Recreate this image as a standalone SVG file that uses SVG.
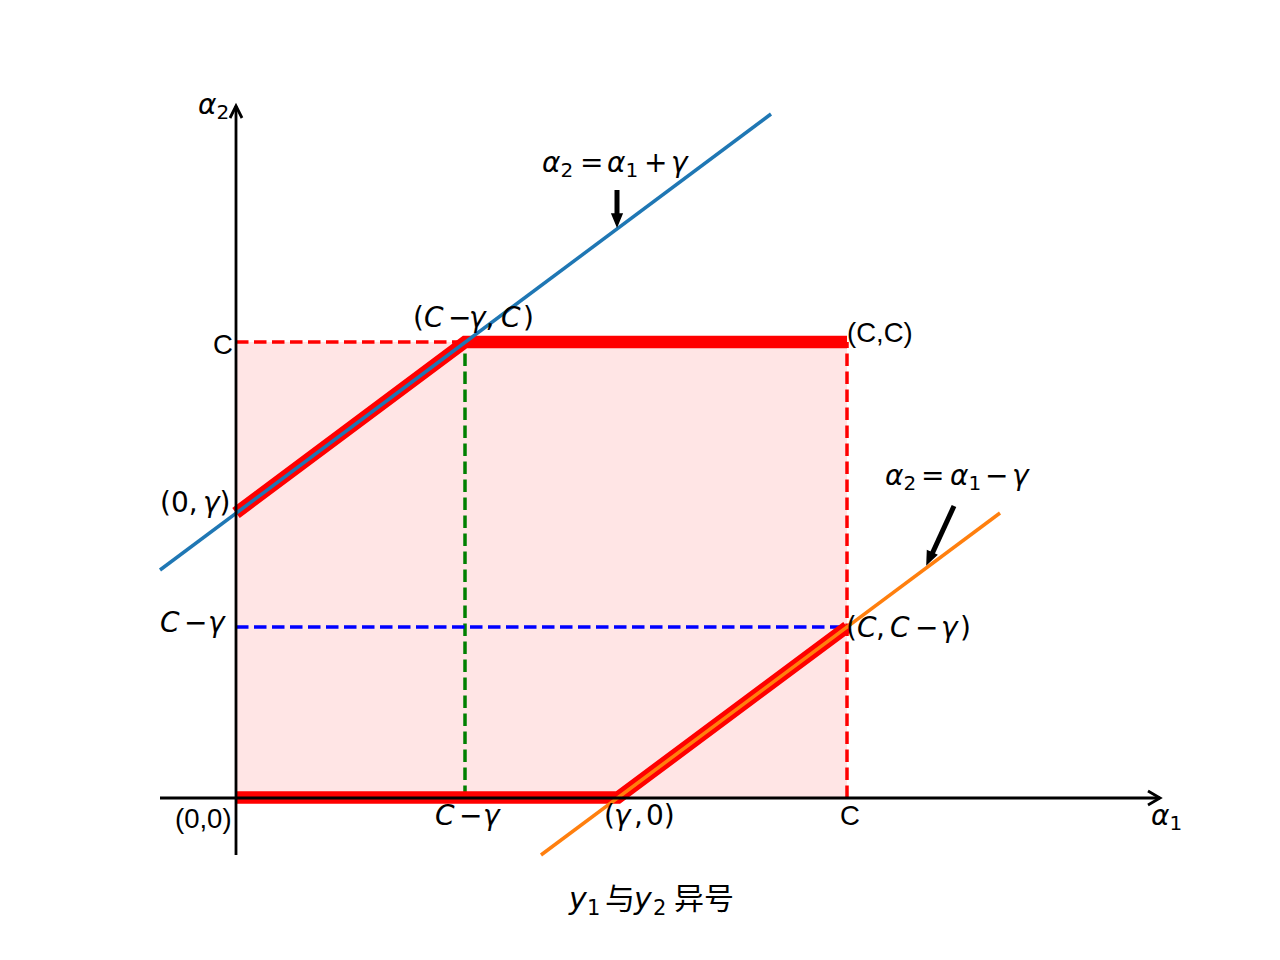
<svg xmlns="http://www.w3.org/2000/svg" width="1280" height="960" viewBox="0 0 1280 960">
<style>
.m{font-family:"DejaVu Sans",sans-serif;font-size:28px;fill:#000}
.i{font-style:italic}
.s{font-size:20px}
.p{font-family:"Liberation Sans",Arial,sans-serif;font-size:27.5px;fill:#000}
.dash{stroke-width:3.5;stroke-dasharray:12.5 5.5;fill:none}
.thick{stroke:#ff0000;stroke-width:12.5;fill:none}
.ax{stroke:#000;stroke-width:2.8;fill:none}
</style>
<rect width="1280" height="960" fill="#fff"/>
<g id="region">
<rect x="236" y="342" width="611" height="456" fill="#ff0000" fill-opacity="0.1"/>
</g>
<g id="guides">
<line class="dash" x1="236" y1="342" x2="465" y2="342" stroke="#ff0000"/>
<line class="dash" x1="847" y1="798" x2="847" y2="342" stroke="#ff0000"/>
<line class="dash" x1="465" y1="798" x2="465" y2="342" stroke="#008000"/>
<line class="dash" x1="236" y1="627" x2="847" y2="627" stroke="#0000ff"/>
</g>
<g id="feasible">
<polyline class="thick" points="236,513 465,342 847,342"/>
<polyline class="thick" points="236,797.5 618,797.5 847,627"/>
</g>
<g id="lines">
<line x1="160" y1="570" x2="771" y2="114" stroke="#1f77b4" stroke-width="3.5"/>
<line x1="541" y1="855" x2="1000" y2="513" stroke="#ff7f0e" stroke-width="3.5"/>
</g>
<g id="axes">
<line class="ax" x1="160" y1="798" x2="1160" y2="798"/>
<polyline class="ax" points="1148,791 1160,798 1148,805"/>
<line class="ax" x1="236" y1="855" x2="236" y2="106"/>
<polyline class="ax" points="230,118 236,106 242,118"/>
</g>
<g id="connectors">
<line x1="617" y1="190" x2="617" y2="217" stroke="#000" stroke-width="5"/>
<polygon points="612,214 622,214 617,226" fill="#000" stroke="#000" stroke-width="1.5"/>
<line x1="954" y1="506" x2="932" y2="554" stroke="#000" stroke-width="5"/>
<polygon points="936.5,555 927.5,551 927,564" fill="#000" stroke="#000" stroke-width="1.5"/>
</g>
<g id="labels">
<text class="m" x="198" y="114"><tspan class="i">α</tspan><tspan class="s" dy="5">2</tspan></text>
<text class="m" y="172"><tspan class="i" x="542">α</tspan><tspan class="s" dy="5">2</tspan><tspan x="580" dy="-5">=</tspan><tspan class="i" x="607">α</tspan><tspan class="s" dy="5">1</tspan><tspan x="644" dy="-5">+</tspan><tspan class="i" x="671">γ</tspan></text>
<text class="m" y="485"><tspan class="i" x="885">α</tspan><tspan class="s" dy="5">2</tspan><tspan x="921" dy="-5">=</tspan><tspan class="i" x="950">α</tspan><tspan class="s" dy="5">1</tspan><tspan x="985" dy="-5">−</tspan><tspan class="i" x="1012">γ</tspan></text>
<text class="m" y="327"><tspan x="413">(</tspan><tspan class="i">C</tspan><tspan x="448">−</tspan><tspan class="i" x="469">γ</tspan><tspan>,</tspan><tspan class="i" x="501">C</tspan><tspan x="523">)</tspan></text>
<text class="p" x="847" y="342">(C,C)</text>
<text class="p" x="213" y="354">C</text>
<text class="m" y="512"><tspan x="160">(</tspan><tspan>0</tspan><tspan>,</tspan><tspan class="i" x="203">γ</tspan><tspan>)</tspan></text>
<text class="m" y="632"><tspan class="i" x="160">C</tspan><tspan x="184">−</tspan><tspan class="i" x="208">γ</tspan></text>
<text class="m" y="637"><tspan x="846">(</tspan><tspan class="i">C</tspan><tspan x="876">,</tspan><tspan class="i" x="890">C</tspan><tspan x="915">−</tspan><tspan class="i" x="941">γ</tspan><tspan x="960">)</tspan></text>
<text class="p" x="175" y="828">(0,0)</text>
<text class="m" y="825"><tspan class="i" x="435">C</tspan><tspan x="459">−</tspan><tspan class="i" x="483">γ</tspan></text>
<text class="m" y="825"><tspan x="604">(</tspan><tspan class="i" x="614">γ</tspan><tspan x="634">,</tspan><tspan x="646">0</tspan><tspan>)</tspan></text>
<text class="p" x="840" y="825">C</text>
<text class="m" x="1151" y="825"><tspan class="i">α</tspan><tspan class="s" dy="5">1</tspan></text>
</g>
<g id="title">
<text style="font-family:'DejaVu Sans','Noto Sans CJK SC',sans-serif;font-size:30px"><tspan font-style="italic" x="569" y="909">y</tspan><tspan font-size="21" x="587" y="915">1</tspan><tspan style="font-family:'Noto Sans CJK SC',sans-serif" x="605" y="909">与</tspan><tspan font-style="italic" x="634" y="909">y</tspan><tspan font-size="21" x="653" y="915">2</tspan><tspan style="font-family:'Noto Sans CJK SC',sans-serif" x="674" y="909">异号</tspan></text>
</g>
</svg>
